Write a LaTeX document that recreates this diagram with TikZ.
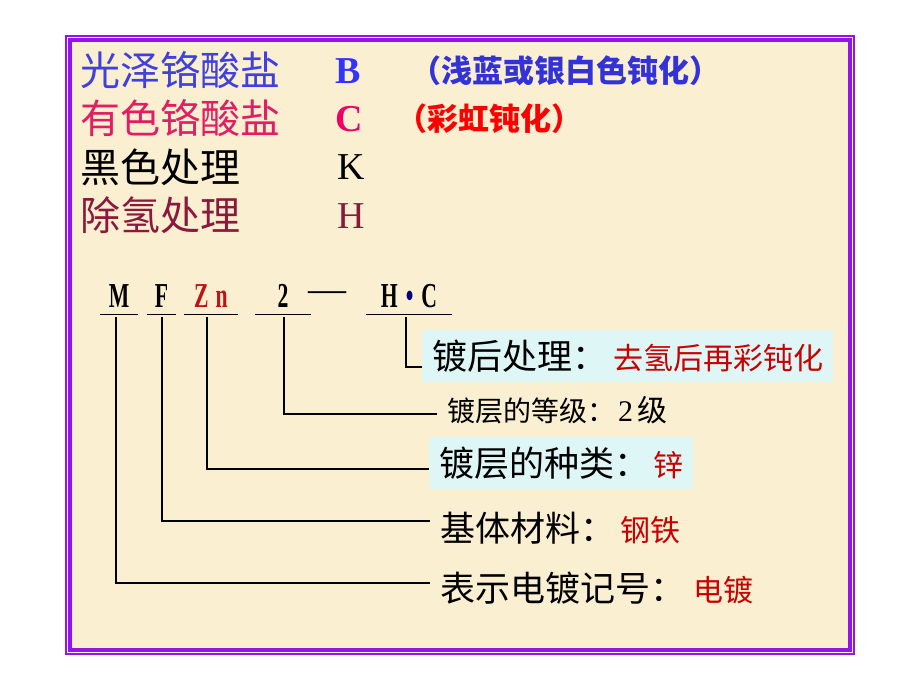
\documentclass[tikz,border=0pt]{standalone}
\usepackage{fontspec}
\setmainfont{Liberation Serif}
\newfontfamily\cjk{Noto Sans CJK SC}
\newfontfamily\codefont[FakeStretch=0.62]{Liberation Serif}
\definecolor{framepurple}{RGB}{150,20,235}
\definecolor{paper}{RGB}{251,239,210}
\definecolor{boxcyan}{RGB}{222,246,246}
\definecolor{glossblue}{RGB}{64,64,224}
\definecolor{letterblue}{RGB}{51,51,255}
\definecolor{noteblue}{RGB}{50,50,215}
\definecolor{tintpink}{RGB}{225,30,100}
\definecolor{letterpink}{RGB}{240,0,100}
\definecolor{wine}{RGB}{140,25,60}
\definecolor{zincred}{RGB}{190,20,20}
\definecolor{valred}{RGB}{200,0,0}
\definecolor{navy}{RGB}{0,0,128}
\tikzset{
  treat/.style={anchor=west, inner sep=0pt, font=\cjk\fontsize{40}{44}\selectfont},
  tag/.style={anchor=west, inner sep=0pt, font=\fontsize{38}{42}\selectfont},
  remark/.style={anchor=west, inner sep=0pt, font=\cjk\bfseries\fontsize{31}{34}\selectfont},
  codepart/.style={font=\codefont\bfseries\fontsize{35}{38}\selectfont, inner xsep=0pt, inner ysep=7pt, text height=23pt, text depth=0pt},
  meaning/.style={anchor=west, inner xsep=10pt, inner ysep=0pt, font=\cjk\fontsize{35}{40}\selectfont},
  meaningbox/.style={meaning, fill=boxcyan, minimum height=52pt},
  wire/.style={line width=1.1pt},
}

\begin{document}
\begin{tikzpicture}[x=1pt, y=-1pt]
    \useasboundingbox (0,0) rectangle (920,690);
    \fill[white] (0,0) rectangle (920,690);
    \draw[framepurple, line width=1.2pt] (66,36) rectangle (854,654);
    \draw[framepurple, line width=4pt, fill=paper] (70,40) rectangle (850,650);

    \node[treat, text=glossblue] (gloss) at (80,70) {光泽铬酸盐};
    \node[treat, text=tintpink] (tint) at (80,118) {有色铬酸盐};
    \node[treat] (dark) at (80,167) {黑色处理};
    \node[treat, text=wine] (dehyd) at (80,215) {除氢处理};
    \node[tag, text=letterblue] (blet) at (335,71) {\bfseries B};
    \node[tag, text=letterpink] (clet) at (335,119) {\bfseries C};
    \node[tag] (klet) at (337,167) {K};
    \node[tag, text=wine] (hlet) at (337,216) {H};
    \node[remark, text=noteblue] (silver) at (410,71) {（浅蓝或银白色钝化）};
    \node[remark, text=red] (rainbow) at (396,119) {（彩虹钝化）};

    \node[codepart, minimum width=38pt] (m) at (119,295.5) {M};
    \node[codepart, minimum width=29pt] (f) at (161.5,295.5) {F};
    \node[codepart, minimum width=54pt, text=zincred] (zn) at (211,295.5) {Z\hspace{7pt}n};
    \node[codepart, minimum width=55pt] (two) at (283,295.5) {2};
    \node[inner sep=0pt, font=\fontsize{38}{40}\selectfont] (dash) at (327,297) {—};
    \node[codepart, minimum width=85pt] (hc) at (409,295.5) {H\hspace{8pt}\textcolor{navy}{\textbullet}\hspace{8pt}C};
    \draw[wire] (m.south west) -- (m.south east)
                (f.south west) -- (f.south east)
                (zn.south west) -- (zn.south east)
                (two.south west) -- (two.south east)
                (hc.south west) -- (hc.south east);

    \node[meaningbox] (post) at (422,356) {镀后处理：\hspace{6pt}{\fontsize{30}{36}\selectfont\color{valred}去氢后再彩钝化}};
    \node[meaning, font=\cjk\fontsize{28}{30}\selectfont] (grade) at (437,410) {镀层的等级：{\rmfamily\fontsize{30}{30}\selectfont\hspace{3pt}2}\hspace{4pt}{\fontsize{30}{30}\selectfont 级}};
    \node[meaningbox] (kind) at (429,463) {镀层的种类：\hspace{4pt}{\fontsize{30}{36}\selectfont\color{valred}锌}};
    \node[meaning] (base) at (430,528) {基体材料：\hspace{5pt}{\fontsize{30}{36}\selectfont\color{valred}钢铁}};
    \node[meaning] (mark) at (430,588) {表示电镀记号：\hspace{8pt}{\fontsize{30}{36}\selectfont\color{valred}电镀}};

    \draw[wire] ([xshift=-3pt,yshift=-3pt]hc.south) |- ([yshift=-11pt]post.west);
    \draw[wire] ([xshift=1pt,yshift=-3pt]two.south) |- ([yshift=-4pt]grade.west);
    \draw[wire] ([xshift=-4pt,yshift=-3pt]zn.south) |- ([yshift=-6pt]kind.west);
    \draw[wire] ([xshift=0.5pt,yshift=-3pt]f.south) |- ([yshift=7pt]base.west);
    \draw[wire] ([xshift=-3pt,yshift=-3pt]m.south) |- ([yshift=5pt]mark.west);
\end{tikzpicture}
\end{document}
